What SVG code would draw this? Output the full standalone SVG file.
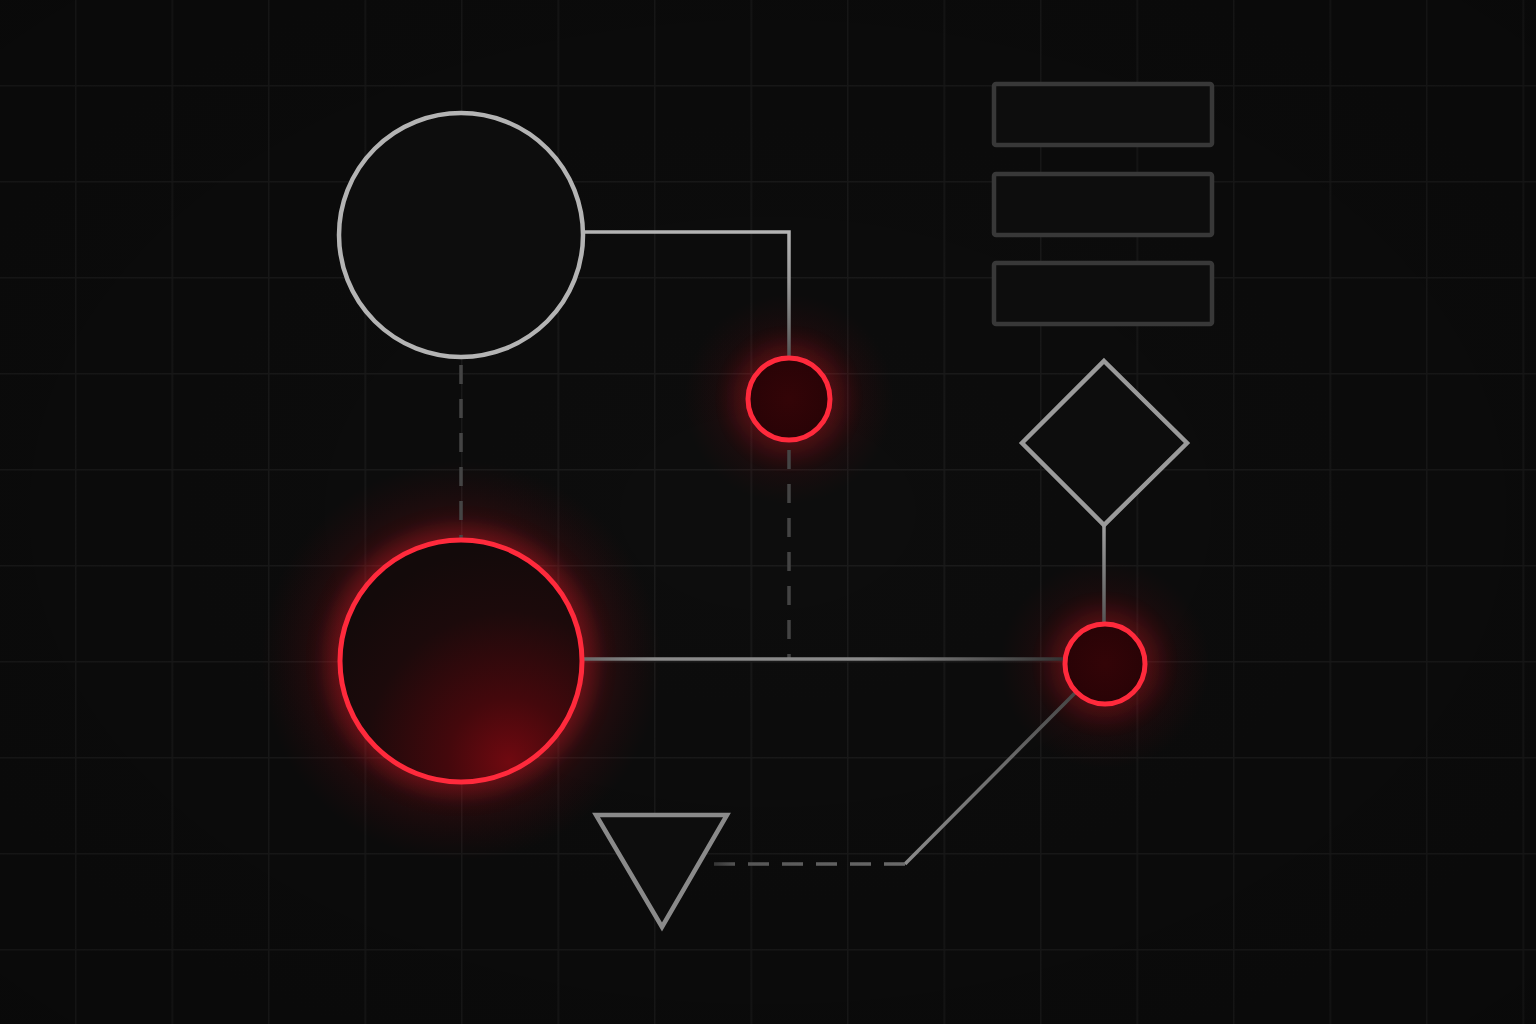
<svg xmlns="http://www.w3.org/2000/svg" width="1536" height="1024" viewBox="0 0 1536 1024">
  <defs>
    <pattern id="grid" x="75" y="85" width="96.5" height="96" patternUnits="userSpaceOnUse">
      <path d="M0.75,0 V96 M0,0.75 H96.5" fill="none" stroke="#1b1b1b" stroke-width="1.5"/>
    </pattern>
    <radialGradient id="vignette" cx="50%" cy="50%" r="75%">
      <stop offset="0" stop-color="#000" stop-opacity="0"/>
      <stop offset="1" stop-color="#000" stop-opacity="0.3"/>
    </radialGradient>
    <radialGradient id="glow" cx="50%" cy="50%" r="50%">
      <stop offset="0" stop-color="#ff1a2a" stop-opacity="0.3"/>
      <stop offset="0.4" stop-color="#d0101c" stop-opacity="0.22"/>
      <stop offset="0.7" stop-color="#a00814" stop-opacity="0.08"/>
      <stop offset="1" stop-color="#800010" stop-opacity="0"/>
    </radialGradient>
    <radialGradient id="bigGlow" cx="50%" cy="50%" r="50%">
      <stop offset="0.6" stop-color="#ff1a2a" stop-opacity="0.3"/>
      <stop offset="0.72" stop-color="#c0101a" stop-opacity="0.14"/>
      <stop offset="1" stop-color="#800010" stop-opacity="0"/>
    </radialGradient>
    <radialGradient id="bigFill" cx="0.7" cy="0.88" r="0.85" fx="0.7" fy="0.92">
      <stop offset="0" stop-color="#700910"/>
      <stop offset="0.3" stop-color="#44080c"/>
      <stop offset="0.7" stop-color="#1c0a0b"/>
      <stop offset="1" stop-color="#130a0a"/>
    </radialGradient>
    <radialGradient id="smallFill" cx="50%" cy="50%" r="50%">
      <stop offset="0" stop-color="#330407"/>
      <stop offset="1" stop-color="#290306"/>
    </radialGradient>
    <filter id="blur" x="-50%" y="-50%" width="200%" height="200%">
      <feGaussianBlur stdDeviation="14"/>
    </filter>
    <linearGradient id="gTop" gradientUnits="userSpaceOnUse" x1="0" y1="232" x2="0" y2="356">
      <stop offset="0" stop-color="#b4b4b4"/>
      <stop offset="0.4" stop-color="#9a9a9a"/>
      <stop offset="1" stop-color="#555"/>
    </linearGradient>
    <linearGradient id="gHoriz" gradientUnits="userSpaceOnUse" x1="583" y1="0" x2="1063" y2="0">
      <stop offset="0" stop-color="#6a6a6a"/>
      <stop offset="0.15" stop-color="#8a8a8a"/>
      <stop offset="0.6" stop-color="#8a8a8a"/>
      <stop offset="1" stop-color="#333"/>
    </linearGradient>
    <linearGradient id="gVert" gradientUnits="userSpaceOnUse" x1="0" y1="525" x2="0" y2="622">
      <stop offset="0" stop-color="#a0a0a0"/>
      <stop offset="1" stop-color="#555"/>
    </linearGradient>
    <linearGradient id="gDiag" gradientUnits="userSpaceOnUse" x1="1076" y1="692" x2="905" y2="864">
      <stop offset="0" stop-color="#444"/>
      <stop offset="0.4" stop-color="#6a6a6a"/>
      <stop offset="1" stop-color="#8a8a8a"/>
    </linearGradient>
    <linearGradient id="gDashTri" gradientUnits="userSpaceOnUse" x1="706" y1="0" x2="905" y2="0">
      <stop offset="0" stop-color="#2a2a2a"/>
      <stop offset="0.15" stop-color="#555"/>
      <stop offset="1" stop-color="#6a6a6a"/>
    </linearGradient>
    <style>
      .rect { fill: #0d0d0d; stroke: #383838; stroke-width: 4.5; }
      .gray { fill: #0d0d0d; stroke-width: 4.5; }
      .red { stroke: #ff2a3c; stroke-width: 5; }
      .conn { fill: none; stroke-width: 3.5; }
      .dash { fill: none; stroke: #444; stroke-width: 3.5; stroke-dasharray: 19 15; }
    </style>
  </defs>

  <rect width="1536" height="1024" fill="#0d0d0d"/>
  <rect width="1536" height="1024" fill="url(#grid)"/>
  <rect width="1536" height="1024" fill="url(#vignette)"/>

  <!-- glows -->
  <g id="glows">
    <circle cx="789" cy="399" r="105" fill="url(#glow)"/>
    <circle cx="1105" cy="664" r="105" fill="url(#glow)"/>
    <circle cx="461" cy="661" r="200" fill="url(#bigGlow)"/>
    <circle cx="461" cy="661" r="121" fill="none" stroke="#ff1a2a" stroke-width="14" opacity="0.3" filter="url(#blur)"/>
    <circle cx="789" cy="399" r="41" fill="none" stroke="#ff1a2a" stroke-width="10" opacity="0.35" filter="url(#blur)"/>
    <circle cx="1105" cy="664" r="40" fill="none" stroke="#ff1a2a" stroke-width="10" opacity="0.35" filter="url(#blur)"/>
  </g>

  <g id="connectors">
    <path class="conn" d="M583,232 H789 V357" stroke="url(#gTop)"/>
    <path class="dash" d="M461,364 V541" stroke-dashoffset="-1"/>
    <path class="dash" d="M789,450 V658" stroke="#4a4a4a"/>
    <path class="conn" d="M583,659 H1063" stroke="url(#gHoriz)"/>
    <path class="conn" d="M1104,525 V623" stroke="url(#gVert)"/>
    <path class="conn" d="M1076,692 L905,864" stroke="url(#gDiag)"/>
    <path d="M905,864 H706" fill="none" stroke="url(#gDashTri)" stroke-width="3.5" stroke-dasharray="21 13"/>
  </g>

  <g id="node-big-gray">
    <circle class="gray" cx="461" cy="235" r="122" stroke="#b4b4b4"/>
  </g>
  <g id="node-small-red-1">
    <circle class="red" cx="789" cy="399" r="41" fill="url(#smallFill)"/>
  </g>
  <g id="node-big-red">
    <circle class="red" cx="461" cy="661" r="121" fill="url(#bigFill)"/>
  </g>
  <g id="node-small-red-2">
    <circle class="red" cx="1105" cy="664" r="40" fill="url(#smallFill)"/>
  </g>
  <g id="node-rect-1">
    <rect class="rect" x="994" y="84" width="218" height="61" rx="2"/>
  </g>
  <g id="node-rect-2">
    <rect class="rect" x="994" y="174" width="218" height="61" rx="2"/>
  </g>
  <g id="node-rect-3">
    <rect class="rect" x="994" y="263" width="218" height="61" rx="2"/>
  </g>
  <g id="node-diamond">
    <polygon class="gray" points="1104,361 1187,443 1104,525 1022,443" stroke="#9a9a9a"/>
  </g>
  <g id="node-triangle">
    <polygon class="gray" points="596,815 727,815 662,927" stroke="#8a8a8a" stroke-linejoin="miter"/>
  </g>
</svg>
